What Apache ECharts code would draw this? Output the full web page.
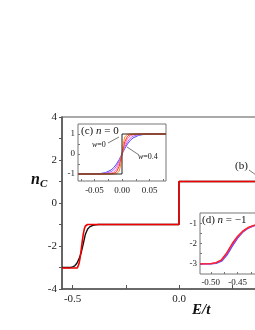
<!DOCTYPE html>
<html><head><meta charset="utf-8">
<script src="https://cdn.jsdelivr.net/npm/echarts@6/dist/echarts.min.js"></script>
<style>html,body{margin:0;padding:0;background:#fff}#c{width:255px;height:330px}</style>
</head><body><div id="c"></div>
<script>
// ---- main panel data (E/t, n_c) ----
const mainBlack = [[-0.55,-3],[-0.51,-3],[-0.5,-2.97],[-0.49,-2.92],[-0.48,-2.8],[-0.47,-2.6],[-0.46,-2.32],[-0.45,-1.9],[-0.44,-1.45],[-0.43,-1.22],[-0.42,-1.11],[-0.41,-1.06],[-0.40,-1.03],[-0.38,-1.0],[0,-1],[0,1],[0.55,1]];
const mainRed = [[-0.55,-3.02],[-0.478,-3.02],[-0.474,-2.95],[-0.47,-2.82],[-0.465,-2.55],[-0.46,-2.2],[-0.455,-1.8],[-0.45,-1.45],[-0.445,-1.2],[-0.44,-1.07],[-0.435,-1.02],[-0.43,-1.0],[0,-1],[0,1],[0.55,1]];
const mainXTicks = [-0.5,-0.25,0,0.25,0.5];
const mainXLabels = [-0.5,0,0.5];
const mainYTicks = [-4,-3,-2,-1,0,1,2,3,4];
const mainYLabels = [-4,-2,0,2,4];

// ---- inset (c): n = 0 ----
const cNames = ['w=0','w=0.08','w=0.16','w=0.24','w=0.32','w=0.4'];
const cColors = ['#222222','#ff8a1c','#ff3030','#ff6fa8','#c060ff','#4a4aff'];
const cW0 = [[-0.08,-1],[0,-1],[0,1],[0.08,1]];
const cW1 = [[-0.08,-1],[-0.015,-1],[-0.01,-0.99],[-0.005,-0.85],[-0.0025,-0.55],[0,0],[0.0025,0.55],[0.005,0.85],[0.01,0.99],[0.015,1],[0.08,1]];
const cW2 = [[-0.08,-1],[-0.03,-1],[-0.02,-0.99],[-0.015,-0.97],[-0.01,-0.89],[-0.005,-0.61],[0,0],[0.005,0.61],[0.01,0.89],[0.015,0.97],[0.02,0.99],[0.03,1],[0.08,1]];
const cW3 = [[-0.08,-1],[-0.04,-1],[-0.03,-0.99],[-0.02,-0.96],[-0.015,-0.91],[-0.01,-0.76],[-0.005,-0.46],[0,0],[0.005,0.46],[0.01,0.76],[0.015,0.91],[0.02,0.96],[0.03,0.99],[0.04,1],[0.08,1]];
const cW4 = [[-0.08,-1],[-0.05,-1],[-0.04,-0.99],[-0.03,-0.97],[-0.02,-0.89],[-0.015,-0.79],[-0.01,-0.61],[-0.005,-0.34],[0,0],[0.005,0.34],[0.01,0.61],[0.015,0.79],[0.02,0.89],[0.03,0.97],[0.04,0.99],[0.05,1],[0.08,1]];
const cW5 = [[-0.08,-1],[-0.06,-1],[-0.05,-0.99],[-0.04,-0.98],[-0.03,-0.93],[-0.02,-0.80],[-0.015,-0.68],[-0.01,-0.50],[-0.005,-0.27],[0,0],[0.005,0.27],[0.01,0.50],[0.015,0.68],[0.02,0.80],[0.03,0.93],[0.04,0.98],[0.05,0.99],[0.06,1],[0.08,1]];
const cXTicks = [-0.075,-0.05,-0.025,0,0.025,0.05,0.075];
const cXLabels = [-0.05,0,0.05];
const cYTicks = [-1,-0.5,0,0.5,1];
const cYLabels = [-1,0,1];

// ---- inset (d): n = -1 ----
const dColors = ['#ff2020','#d040d0','#4a4aff'];
const dRed = [[-0.52,-3],[-0.50,-2.99],[-0.49,-2.94],[-0.48,-2.8],[-0.47,-2.45],[-0.46,-2.0],[-0.45,-1.64],[-0.44,-1.38],[-0.43,-1.21],[-0.42,-1.11],[-0.41,-1.06],[-0.40,-1.03],[-0.36,-1.0]];
const dMag = [[-0.52,-3],[-0.50,-2.995],[-0.49,-2.955],[-0.48,-2.83],[-0.47,-2.5],[-0.46,-2.06],[-0.45,-1.68],[-0.44,-1.4],[-0.43,-1.225],[-0.42,-1.12],[-0.41,-1.065],[-0.40,-1.035],[-0.36,-1.0]];
const dBlue = [[-0.52,-3],[-0.50,-3.0],[-0.49,-2.97],[-0.48,-2.87],[-0.47,-2.57],[-0.46,-2.13],[-0.45,-1.73],[-0.44,-1.43],[-0.43,-1.24],[-0.42,-1.13],[-0.41,-1.07],[-0.40,-1.04],[-0.36,-1.0]];
const dXTicks = [-0.50,-0.475,-0.45,-0.425,-0.40,-0.375];
const dXLabels = [-0.50,-0.45,-0.40];
const dYTicks = [-3,-2.5,-2,-1.5,-1];
const dYLabels = [-3,-2,-1];

const F = 'Liberation Serif';
const axisGray = '#555';
function fmt2(v){ return v===0 ? '0.00' : v.toFixed(2); }

const chart = echarts.init(document.getElementById('c'), null, {renderer:'canvas'});
const series = [];
series.push({type:'line', xAxisIndex:0, yAxisIndex:0, data:mainBlack, showSymbol:false, lineStyle:{color:'#111', width:1.4}, z:3});
series.push({type:'line', xAxisIndex:0, yAxisIndex:0, data:mainRed, showSymbol:false, lineStyle:{color:'#f00000', width:1.6}, z:4});
[cW5,cW4,cW3,cW2,cW1,cW0].forEach((d,i)=>{
  const idx = 5-i;
  series.push({type:'line', xAxisIndex:1, yAxisIndex:1, data:d, showSymbol:false, lineStyle:{color:cColors[idx], width:1}, z:10+i});
});
[dBlue,dMag,dRed].forEach((d,i)=>{
  series.push({type:'line', xAxisIndex:2, yAxisIndex:2, data:d, showSymbol:false, lineStyle:{color:dColors[2-i], width:1.4}, z:10+i});
});

chart.setOption({
  animation:false,
  backgroundColor:'#fff',
  grid:[
    {left:62, top:117, width:234, height:172, outerBoundsMode:'none', containLabel:false, show:true, borderColor:axisGray, borderWidth:1.2, backgroundColor:'#fff'},
    {left:78, top:124, width:88, height:57, outerBoundsMode:'none', containLabel:false, show:true, borderColor:'#777', borderWidth:1, backgroundColor:'#fff', z:5},
    {left:200, top:213, width:86, height:61, outerBoundsMode:'none', containLabel:false, show:true, borderColor:'#777', borderWidth:1, backgroundColor:'#fff', z:5}
  ],
  xAxis:[
    {gridIndex:0, type:'value', position:'bottom', min:-0.55, max:0.55, splitLine:{show:false},
     axisLine:{show:true, onZero:false, lineStyle:{color:axisGray, width:1.5}},
     axisTick:{show:true, inside:true, length:4, customValues:mainXTicks, lineStyle:{color:axisGray}},
     axisLabel:{customValues:mainXLabels, margin:5, fontFamily:F, fontSize:11, color:'#222', formatter:v=>v.toFixed(1)}},
    {gridIndex:1, type:'value', position:'bottom', min:-0.08, max:0.08, splitLine:{show:false}, z:6,
     axisLine:{show:false, onZero:false},
     axisTick:{show:true, inside:true, length:2, customValues:cXTicks, lineStyle:{color:'#777'}},
     axisLabel:{customValues:cXLabels, margin:5, fontFamily:F, fontSize:9, color:'#222', formatter:fmt2}},
    {gridIndex:2, type:'value', position:'bottom', min:-0.52, max:-0.36, splitLine:{show:false}, z:6,
     axisLine:{show:false, onZero:false},
     axisTick:{show:true, inside:true, length:2, customValues:dXTicks, lineStyle:{color:'#777'}},
     axisLabel:{customValues:dXLabels, margin:4, fontFamily:F, fontSize:9, color:'#222', formatter:v=>v.toFixed(2)}}
  ],
  yAxis:[
    {gridIndex:0, type:'value', position:'left', min:-4, max:4, splitLine:{show:false},
     axisLine:{show:true, onZero:false, lineStyle:{color:axisGray, width:1.5}},
     axisTick:{show:true, inside:false, length:3, customValues:mainYTicks, lineStyle:{color:axisGray}},
     axisLabel:{customValues:mainYLabels, margin:5, fontFamily:F, fontSize:11, color:'#222'}},
    {gridIndex:1, type:'value', position:'left', min:-1.35, max:1.5, splitLine:{show:false}, z:6,
     axisLine:{show:false, onZero:false},
     axisTick:{show:true, inside:true, length:2, customValues:cYTicks, lineStyle:{color:'#777'}},
     axisLabel:{customValues:cYLabels, margin:3, fontFamily:F, fontSize:9, color:'#222'}},
    {gridIndex:2, type:'value', position:'left', min:-3.5, max:-0.5, splitLine:{show:false}, z:6,
     axisLine:{show:false, onZero:false},
     axisTick:{show:true, inside:true, length:2, customValues:dYTicks, lineStyle:{color:'#777'}},
     axisLabel:{customValues:dYLabels, margin:3, fontFamily:F, fontSize:9, color:'#222'}}
  ],
  series:series,
  graphic:[
    {type:'text', left:31, top:172, z:20, style:{text:'{n|n}{s|C}', fontFamily:F,
      rich:{n:{fontFamily:F, fontSize:16, fontWeight:'bold', fontStyle:'italic', fill:'#111'},
            s:{fontFamily:F, fontSize:11, fontStyle:'italic', fontWeight:'bold', fill:'#111', padding:[8,0,0,0]}}}},
    {type:'text', left:192, top:303, z:20, style:{text:'E/t', fontFamily:F, fontSize:15, fontWeight:'bold', fontStyle:'italic', fill:'#111'}},
    {type:'text', left:81, top:126, z:20, style:{text:'(c) {i|n} = 0', fontFamily:F, fontSize:11, fill:'#111',
      rich:{i:{fontFamily:F, fontSize:11, fontStyle:'italic', fill:'#111'}}}},
    {type:'text', left:92, top:141, z:20, style:{text:'{i|w}=0', fontFamily:F, fontSize:8, fill:'#111',
      rich:{i:{fontFamily:F, fontSize:8, fontStyle:'italic', fill:'#111'}}}},
    {type:'line', z:20, shape:{x1:108, y1:143, x2:119, y2:137}, style:{stroke:'#555', lineWidth:0.8}},
    {type:'text', left:138, top:153, z:20, style:{text:'{i|w}=0.4', fontFamily:F, fontSize:8, fill:'#111',
      rich:{i:{fontFamily:F, fontSize:8, fontStyle:'italic', fill:'#111'}}}},
    {type:'line', z:20, shape:{x1:139, y1:155, x2:127, y2:147}, style:{stroke:'#555', lineWidth:0.8}},
    {type:'text', left:202, top:215, z:20, style:{text:'(d) {i|n} = \u22121', fontFamily:F, fontSize:11, fill:'#111',
      rich:{i:{fontFamily:F, fontSize:11, fontStyle:'italic', fill:'#111'}}}},
    {type:'text', left:235, top:161, z:20, style:{text:'(b)', fontFamily:F, fontSize:11, fill:'#111'}},
    {type:'line', z:20, shape:{x1:249, y1:170, x2:256, y2:175}, style:{stroke:'#555', lineWidth:0.8}}
  ]
});
</script></body></html>
